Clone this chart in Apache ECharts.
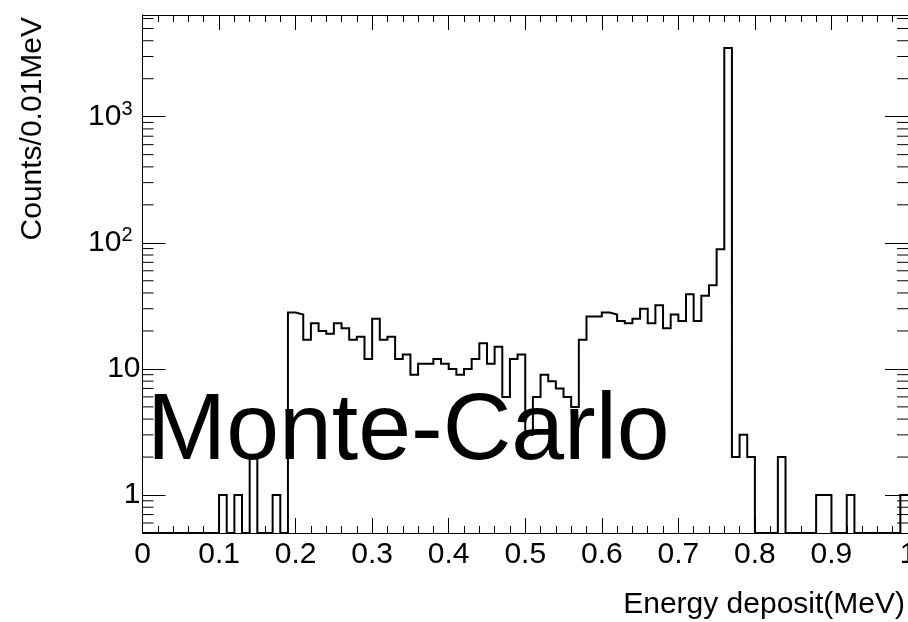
<!DOCTYPE html>
<html><head><meta charset="utf-8">
<script src="https://cdn.jsdelivr.net/npm/echarts@6/dist/echarts.min.js"></script>
<style>html,body{margin:0;padding:0;background:#fff}#c{width:908px;height:622px}</style>
</head><body><div id="c"></div>
<script>
// ---- data ----
const binStart = 0.0;
const binWidth = 0.01;
// counts per 0.01 MeV bin, bins 0.00-0.01 ... 0.99-1.00
const counts = [
  0, 0, 0, 0, 0, 0, 0, 0, 0, 0,
  1, 0, 1, 0, 2, 0, 0, 1, 0, 28,
  27, 17, 23, 20, 19, 23, 21, 17, 18, 12,
  25, 17, 18, 12, 13, 9, 11, 11, 12, 11,
  10, 9, 10, 12, 16, 11, 15, 6, 12, 13,
  3, 6, 9, 8, 7, 6, 5, 17, 26, 26,
  28, 27, 24, 23, 25, 30, 23, 32, 21, 27,
  24, 39, 24, 38, 46, 89, 3500, 2, 3, 2,
  0, 0, 0, 2, 0, 0, 0, 0, 1, 1,
  0, 0, 1, 0, 0, 0, 0, 0, 0, 1
];
const xTickLabels = ['0', '0.1', '0.2', '0.3', '0.4', '0.5', '0.6', '0.7', '0.8', '0.9', '1'];
const yMajorTicks = [1, 10, 100, 1000];
const yMajorLabels = ['1', '10', '10{s|2}', '10{s|3}'];
const yMinorTicks = [0.6, 0.7, 0.8, 0.9,
  2, 3, 4, 5, 6, 7, 8, 9,
  20, 30, 40, 50, 60, 70, 80, 90,
  200, 300, 400, 500, 600, 700, 800, 900,
  2000, 3000, 4000, 5000, 6000];
const xMin = 0, xMax = 1;
const yMin = 0.5, yMax = 6400;
const xTitle = 'Energy deposit(MeV)';
const yTitle = 'Counts/0.01MeV';
const label = 'Monte-Carlo';

// ---- build histogram outline (ROOT style: empty bins drawn on the frame) ----
const outline = [];
counts.forEach((c, i) => {
  const lo = binStart + i * binWidth, hi = lo + binWidth;
  const v = c > 0 ? c : yMin;
  outline.push([lo, v], [hi, v]);
});

const FONT = '"Liberation Sans", Arial, Helvetica, sans-serif';
const chart = echarts.init(document.getElementById('c'), null, {renderer: 'canvas'});

function xLabel(v) {
  const idx = Math.round(v * 10);
  return xTickLabels[idx] !== undefined ? xTickLabels[idx] : '';
}
function yLabel(v) {
  for (let i = 0; i < yMajorTicks.length; i++) {
    if (Math.abs(v - yMajorTicks[i]) / yMajorTicks[i] < 1e-6) return yMajorLabels[i];
  }
  return '';
}
const black = {color: '#000', width: 1};
const xAxisBase = {
  type: 'value', min: xMin, max: xMax, interval: 0.1,
  axisLine: {show: true, onZero: false, lineStyle: black},
  axisTick: {show: true, inside: true, length: 15, lineStyle: black},
  minorTick: {show: true, splitNumber: 5, length: 7, lineStyle: black},
  splitLine: {show: false}, minorSplitLine: {show: false}
};
const yAxisBase = {
  type: 'log', logBase: 10, min: yMin, max: yMax,
  axisLine: {show: true, onZero: false, lineStyle: black},
  axisTick: {show: true, inside: true, length: 23, lineStyle: black},
  splitLine: {show: false}
};

chart.setOption({
  animation: false,
  backgroundColor: '#fff',
  grid: {left: 142.5, right: 0, top: 15, bottom: 89, containLabel: false, outerBoundsMode: 'none'},
  xAxis: [
    Object.assign({}, xAxisBase, {position: 'bottom',
      axisLabel: {show: true, margin: 7, color: '#000', fontSize: 30, fontFamily: FONT,
        formatter: xLabel, showMinLabel: true, showMaxLabel: true, hideOverlap: false}}),
    Object.assign({}, xAxisBase, {position: 'top', axisLabel: {show: false}})
  ],
  yAxis: [
    Object.assign({}, yAxisBase, {position: 'left',
      axisLabel: {show: true, margin: 2, color: '#000', fontSize: 30, fontFamily: FONT,
        showMinLabel: false, showMaxLabel: false, hideOverlap: false,
        formatter: yLabel,
        rich: {s: {fontSize: 20, fontFamily: FONT, color: '#000', verticalAlign: 'top', padding: [0, 8, 14, 0]}}}}),
    Object.assign({}, yAxisBase, {position: 'right', axisLabel: {show: false}})
  ],
  series: [
    {
      type: 'custom', coordinateSystem: 'cartesian2d', xAxisIndex: 0, yAxisIndex: 0,
      silent: true, clip: false,
      data: yMinorTicks.map(v => [xMin, v]),
      renderItem: function (params, api) {
        const pL = api.coord([xMin, api.value(1)]);
        const pR = api.coord([xMax, api.value(1)]);
        return {type: 'group', children: [
          {type: 'line', shape: {x1: pL[0], y1: pL[1], x2: pL[0] + 11, y2: pL[1]}, style: {stroke: '#000', lineWidth: 1}},
          {type: 'line', shape: {x1: pR[0], y1: pR[1], x2: pR[0] - 11, y2: pR[1]}, style: {stroke: '#000', lineWidth: 1}}
        ]};
      }
    },
    {
      type: 'line', xAxisIndex: 0, yAxisIndex: 0,
      data: outline, showSymbol: false, symbol: 'none', silent: true,
      lineStyle: {color: '#000', width: 2, join: 'miter'}
    }
  ],
  graphic: [
    {type: 'text', x: 147, y: 433, silent: true, z: 10,
      style: {text: label, font: '95px ' + FONT, fill: '#000', textAlign: 'left', textVerticalAlign: 'middle'}},
    {type: 'text', x: 905, y: 605, silent: true,
      style: {text: xTitle, font: '30px ' + FONT, fill: '#000', textAlign: 'right', textVerticalAlign: 'middle'}},
    {type: 'text', x: 33, y: 17, rotation: Math.PI / 2, silent: true,
      style: {text: yTitle, font: '30px ' + FONT, fill: '#000', textAlign: 'right', textVerticalAlign: 'middle'}}
  ]
});
</script>
</body></html>
